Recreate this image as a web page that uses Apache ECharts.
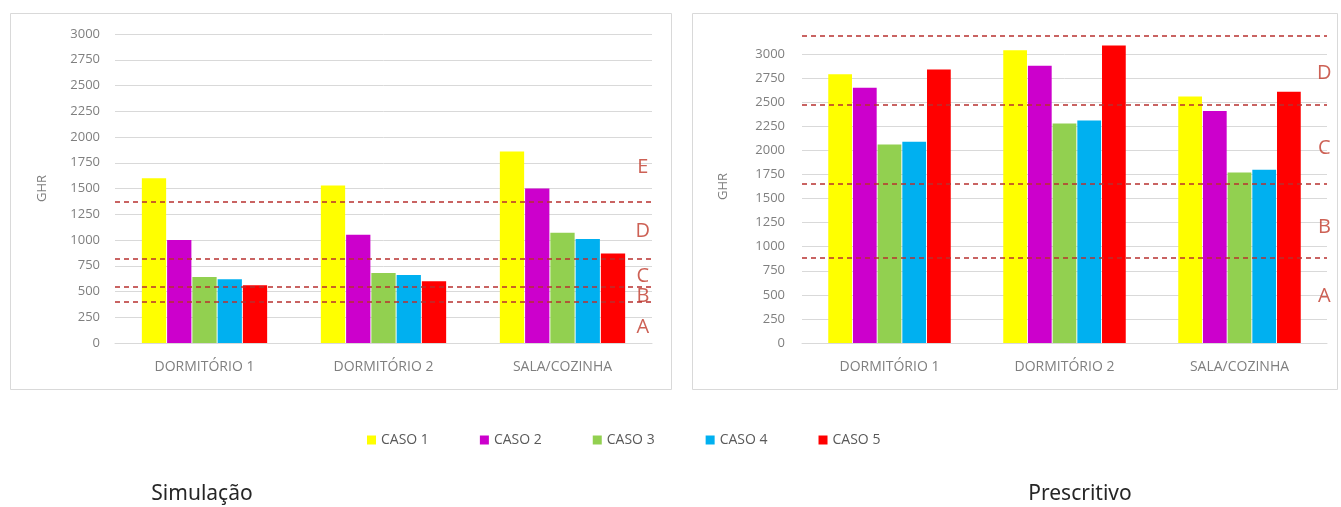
<!DOCTYPE html>
<html><head><meta charset="utf-8">
<script src="https://cdn.jsdelivr.net/npm/echarts@6/dist/echarts.min.js"></script>
<style>html,body{margin:0;padding:0;background:#fff}#c{width:1341px;height:507px}</style>
</head><body><div id="c"></div>
<script>
// ---- data ----
const categories = ['DORMITÓRIO 1', 'DORMITÓRIO 2', 'SALA/COZINHA'];
const seriesNames = ['CASO 1', 'CASO 2', 'CASO 3', 'CASO 4', 'CASO 5'];
const yTicksSim = [0, 250, 500, 750, 1000, 1250, 1500, 1750, 2000, 2250, 2500, 2750, 3000];
const yTicksPresc = [0, 250, 500, 750, 1000, 1250, 1500, 1750, 2000, 2250, 2500, 2750, 3000];

const simCaso1 = [1600, 1530, 1860];
const simCaso2 = [1000, 1050, 1500];
const simCaso3 = [640, 680, 1070];
const simCaso4 = [620, 660, 1010];
const simCaso5 = [560, 600, 870];

const prescCaso1 = [2790, 3040, 2560];
const prescCaso2 = [2650, 2880, 2410];
const prescCaso3 = [2060, 2280, 1770];
const prescCaso4 = [2090, 2310, 1800];
const prescCaso5 = [2840, 3090, 2610];

const simThresholds = [400, 550, 820, 1370];
const prescThresholds = [890, 1650, 2470, 3190];

const simLetters = ['A', 'B', 'C', 'D', 'E'];
const simLetterValues = [155, 450, 650, 1080, 1705];
const prescLetters = ['A', 'B', 'C', 'D'];
const prescLetterValues = [480, 1205, 2025, 2800];

const titles = ['Simulação', 'Prescritivo'];
const axisName = 'GHR';

// ---- style ----
const colors = ['#FFFF00', '#CC00CC', '#92D050', '#00B0F0', '#FF0000'];
const FONT = '"Open Sans", "Liberation Sans", sans-serif';
const gray = '#7f7f7f';
const gridColor = '#d9d9d9';
const lineRed = '#b8312f';
const letterRed = '#c0392b';

const simData = [simCaso1, simCaso2, simCaso3, simCaso4, simCaso5];
const prescData = [prescCaso1, prescCaso2, prescCaso3, prescCaso4, prescCaso5];

const chart = echarts.init(document.getElementById('c'), null, {renderer: 'canvas'});

const grids = [
  {left: 115, right: 1341 - 652, top: 34, height: 309},
  {left: 802, right: 14, top: 343 - 313, height: 313}
];

function catAxis(gi) {
  return {
    type: 'category', gridIndex: gi, data: categories,
    axisLine: {lineStyle: {color: gridColor}},
    axisTick: {show: false},
    axisLabel: {color: gray, fontFamily: FONT, fontSize: 14, margin: 17}
  };
}
function letterAxis(gi) {
  return {type: 'value', gridIndex: gi, min: 0, max: 1, show: false};
}
const simMax = yTicksSim[yTicksSim.length - 1];
const prescTop = 3250;
const prescSplitColors = [];
for (let v = 0; v <= prescTop; v += 250) prescSplitColors.push(yTicksPresc.includes(v) ? gridColor : 'rgba(0,0,0,0)');

const yAxes = [
  {
    type: 'value', gridIndex: 0, min: 0, max: simMax, interval: 250,
    name: axisName, nameLocation: 'middle', nameGap: 66,
    nameTextStyle: {color: gray, fontFamily: FONT, fontSize: 13},
    axisLine: {show: false}, axisTick: {show: false},
    axisLabel: {color: gray, fontFamily: FONT, fontSize: 13, margin: 15,
      formatter: v => yTicksSim.includes(v) ? String(v) : ''},
    splitLine: {lineStyle: {color: gridColor}}
  },
  {
    type: 'value', gridIndex: 1, min: 0, max: prescTop, interval: 250,
    name: axisName, nameLocation: 'middle', nameGap: 72,
    nameTextStyle: {color: gray, fontFamily: FONT, fontSize: 13},
    axisLine: {show: false}, axisTick: {show: false},
    axisLabel: {color: gray, fontFamily: FONT, fontSize: 13, margin: 17,
      formatter: v => yTicksPresc.includes(v) ? String(v) : ''},
    splitLine: {lineStyle: {color: prescSplitColors}}
  }
];

const series = [];
function addBars(data, gi, thresholds) {
  data.forEach((vals, i) => {
    const s = {
      type: 'bar', name: seriesNames[i], xAxisIndex: gi * 2, yAxisIndex: gi,
      data: vals, barGap: '4%', barCategoryGap: '30%',
      itemStyle: {color: colors[i]},
      emphasis: {disabled: true}
    };
    if (i === 0) {
      s.markLine = {
        silent: true, symbol: 'none', animation: false,
        label: {show: false},
        lineStyle: {type: [5, 4], color: lineRed, width: 1.5},
        emphasis: {disabled: true},
        data: thresholds.map(v => ({yAxis: v}))
      };
    }
    series.push(s);
  });
}
function addLetters(letters, values, gi, xPos) {
  series.push({
    type: 'scatter', name: 'letters' + gi, xAxisIndex: gi * 2 + 1, yAxisIndex: gi,
    symbolSize: 1, itemStyle: {color: 'rgba(0,0,0,0)'}, silent: true,
    data: letters.map((l, k) => ({value: [xPos, values[k]], name: l})),
    label: {show: true, position: 'inside', formatter: p => p.name,
      color: letterRed, fontFamily: FONT, fontSize: 20}
  });
}
addBars(simData, 0, simThresholds);
addBars(prescData, 1, prescThresholds);
addLetters(simLetters, simLetterValues, 0, 0.983);
addLetters(prescLetters, prescLetterValues, 1, 0.995);

chart.setOption({
  animation: false,
  backgroundColor: '#fff',
  grid: grids,
  xAxis: [catAxis(0), letterAxis(0), catAxis(1), letterAxis(1)],
  yAxis: yAxes,
  legend: {
    data: seriesNames, left: 362, top: 428, itemWidth: 9, itemHeight: 9,
    itemGap: 51, icon: 'rect',
    textStyle: {color: '#595959', fontFamily: FONT, fontSize: 14}
  },
  title: [
    {text: titles[0], left: 197, top: 479, textAlign: 'center',
      textStyle: {fontFamily: '"Noto Sans", sans-serif', fontWeight: 'normal', fontSize: 21, color: '#262626'}},
    {text: titles[1], left: 1075, top: 479, textAlign: 'center',
      textStyle: {fontFamily: '"Noto Sans", sans-serif', fontWeight: 'normal', fontSize: 21, color: '#262626'}}
  ],
  graphic: [
    {type: 'rect', shape: {x: 10.5, y: 13.5, width: 661, height: 376}, z: -10,
      style: {fill: 'none', stroke: gridColor, lineWidth: 1}},
    {type: 'rect', shape: {x: 692.5, y: 13.5, width: 645, height: 376}, z: -10,
      style: {fill: 'none', stroke: gridColor, lineWidth: 1}}
  ],
  series: series
});
</script></body></html>
